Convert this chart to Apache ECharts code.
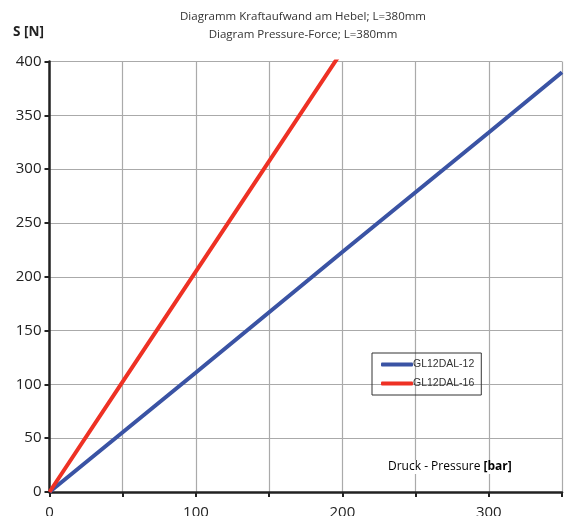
<!DOCTYPE html>
<html><head><meta charset="utf-8">
<script src="https://cdn.jsdelivr.net/npm/echarts@6/dist/echarts.min.js"></script>
<style>html,body{margin:0;padding:0;background:#fff}#c{width:564px;height:516px}</style>
</head><body><div id="c"></div>
<script>
const titleLines = ["Diagramm Kraftaufwand am Hebel; L=380mm", "Diagram Pressure-Force; L=380mm"];
const seriesNames = ["GL12DAL-12", "GL12DAL-16"];
const blueData = [[0, 0], [100, 111], [200, 223], [300, 334], [350, 390]];
const redData = [[0, 0], [50, 102.5], [100, 205], [150, 307.5], [200, 410]];
const xTicks = [0, 350, 50];
const yTicks = [0, 400, 50];

const chart = echarts.init(document.getElementById('c'));
const F = '"Open Sans", "Noto Sans", sans-serif';
chart.setOption({
  animation: false,
  grid: {left: 49.5, right: 2, top: 61.5, bottom: 24, containLabel: false, outerBoundsMode: 'none'},
  xAxis: {
    type: 'value', min: xTicks[0], max: xTicks[1], interval: xTicks[2],
    axisLine: {lineStyle: {color: '#222', width: 2.5}},
    axisTick: {show: true, length: 5, lineStyle: {color: '#222', width: 2}},
    axisLabel: {interval: 1, formatter: v => (v % 100 === 0 ? String(v) : ''), fontFamily: F, fontSize: 15, color: '#222', margin: 13},
    splitLine: {show: true, lineStyle: {color: '#aaa', width: 1.2}}
  },
  yAxis: {
    type: 'value', min: yTicks[0], max: yTicks[1], interval: yTicks[2],
    axisLine: {show: true, lineStyle: {color: '#222', width: 2.5}},
    axisTick: {show: true, length: 5, lineStyle: {color: '#222', width: 2}},
    axisLabel: {fontFamily: F, fontSize: 15, color: '#222', margin: 8},
    splitLine: {show: true, lineStyle: {color: '#aaa', width: 1.2}}
  },
  legend: {
    orient: 'vertical', left: 372, top: 353,
    borderColor: '#333', borderWidth: 1, padding: [6, 7, 6, 9],
    itemGap: 8, itemWidth: 32, itemHeight: 4, icon: 'roundRect',
    textStyle: {fontFamily: '"Liberation Sans", Arial, sans-serif', fontSize: 10.5, color: '#333', padding: [0, 0, 0, -5]},
    data: seriesNames
  },
  graphic: [
    {type: 'text', x: 303, y: 11, style: {text: titleLines[0], font: '11.5px ' + F, fill: '#333', align: 'center'}},
    {type: 'text', x: 303, y: 29, style: {text: titleLines[1], font: '11.5px ' + F, fill: '#333', align: 'center'}},
    {type: 'text', left: 13, top: 25, style: {text: 'S [N]', font: 'bold 13.5px ' + F, fill: '#222'}},
    {type: 'text', left: 386, top: 460, style: {rich: {a: {fontFamily: F, fontSize: 12, color: '#333'}, b: {fontFamily: F, fontSize: 12, fontWeight: 'bold', color: '#333'}}, text: '{a|Druck - Pressure }{b|[bar]}', backgroundColor: '#fff', padding: [1, 2]}, z: 10}
  ],
  series: [
    {name: seriesNames[0], type: 'line', data: blueData, symbol: 'none', color: '#3a53a4', lineStyle: {width: 4}, clip: true},
    {name: seriesNames[1], type: 'line', data: redData, symbol: 'none', color: '#ee3124', lineStyle: {width: 4}, clip: true}
  ]
});
</script></body></html>
